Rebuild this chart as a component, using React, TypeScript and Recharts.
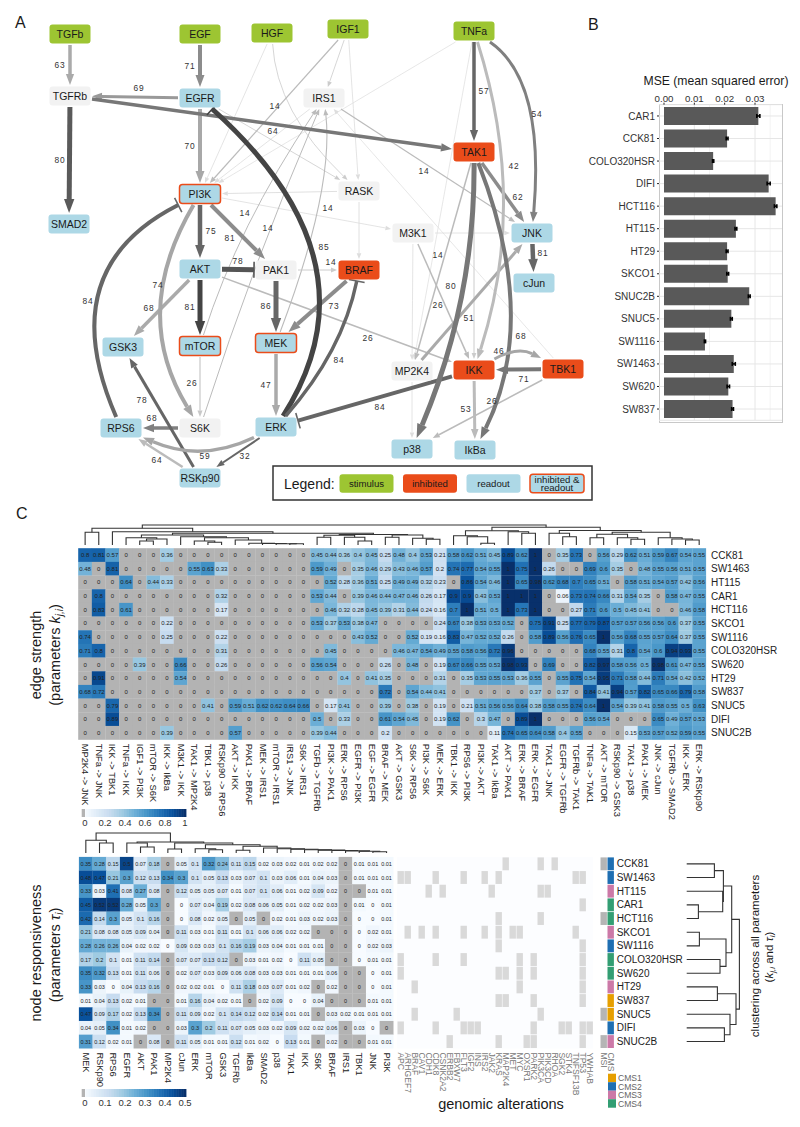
import React from 'react';
import { Bar, BarChart, CartesianGrid, ErrorBar, ReferenceArea, Scatter, ScatterChart, XAxis, YAxis } from 'recharts';

const FONT = '"Liberation Sans", Arial, sans-serif';
const PAGE_W = 800;
const PAGE_H = 1127;

// ---- network (panel A) ----
const nodeNames = ['TGFb', 'EGF', 'HGF', 'IGF1', 'TNFa', 'TGFRb', 'EGFR', 'IRS1', 'SMAD2', 'PI3K', 'RASK', 'TAK1', 'M3K1', 'JNK', 'AKT', 'PAK1', 'BRAF', 'cJun', 'GSK3', 'mTOR', 'MEK', 'MP2K4', 'IKK', 'TBK1', 'RPS6', 'S6K', 'ERK', 'p38', 'IkBa', 'RSKp90'];
const nodeX = [70, 200, 272, 348, 474, 70, 200, 324, 69, 200, 359, 474, 413, 532, 200, 276, 359, 534, 123, 200, 276, 412, 474, 563, 121, 200, 276, 412, 475, 200];
const nodeY = [34, 34, 33, 29, 31, 96, 98, 98, 224, 194, 191, 152, 233, 233, 269, 270, 270, 283, 347, 346, 343, 371, 370, 369, 428, 428, 427, 449, 450, 478];
const nodeKind = ['s', 's', 's', 's', 's', 'o', 'r', 'o', 'r', 'b', 'o', 'i', 'o', 'r', 'r', 'o', 'i', 'r', 'r', 'b', 'b', 'o', 'i', 'i', 'r', 'o', 'r', 'r', 'r', 'r'];

// from, to, optional point the curve passes through
type EdgeRow = [string, string, number?, number?];
const edgeRows: EdgeRow[] = [
  ['IGF1', 'IRS1'], ['IGF1', 'RASK'], ['HGF', 'PI3K'], ['HGF', 'RASK', 296, 112], ['TNFa', 'PI3K'], ['IRS1', 'PI3K'],
  ['EGFR', 'RASK'], ['RASK', 'PI3K'], ['PI3K', 'M3K1'], ['RASK', 'BRAF'], ['M3K1', 'JNK'], ['M3K1', 'MP2K4'],
  ['MP2K4', 'p38'], ['TBK1', 'IRS1'], ['TNFa', 'MP2K4'], ['IGF1', 'PI3K'], ['S6K', 'IRS1', 258, 262], ['mTOR', 'IRS1', 250, 224],
  ['MEK', 'IRS1', 317, 205], ['IRS1', 'JNK'], ['TAK1', 'IKK'], ['TAK1', 'MP2K4'], ['M3K1', 'IKK'], ['PAK1', 'BRAF'],
  ['mTOR', 'S6K'], ['AKT', 'IKK'], ['TBK1', 'p38'], ['TGFb', 'TGFRb'], ['EGF', 'EGFR'], ['EGFR', 'TGFRb'],
  ['TGFRb', 'SMAD2'], ['EGFR', 'PI3K'], ['TGFRb', 'TAK1'], ['PI3K', 'AKT'], ['PI3K', 'PAK1'], ['AKT', 'PAK1'],
  ['AKT', 'mTOR'], ['AKT', 'GSK3'], ['PAK1', 'MEK'], ['BRAF', 'MEK'], ['MEK', 'ERK'], ['S6K', 'RPS6'],
  ['RSKp90', 'GSK3'], ['RSKp90', 'RPS6'], ['ERK', 'RSKp90'], ['IKK', 'ERK'], ['TNFa', 'TAK1'], ['TAK1', 'JNK'],
  ['JNK', 'cJun'], ['TBK1', 'IKK'], ['IKK', 'IkBa'], ['MP2K4', 'JNK'], ['ERK', 'EGFR', 310, 262], ['RPS6', 'PI3K', 106, 290],
  ['PI3K', 'S6K', 165, 312], ['ERK', 'BRAF', 330, 350], ['ERK', 'RPS6', 200, 445], ['TNFa', 'JNK', 524, 106], ['TNFa', 'IKK', 501, 201],
  ['TAK1', 'p38', 459, 300], ['TAK1', 'IkBa', 507, 310], ['IKK', 'TBK1', 518, 358],
];
const inhibitoryEdges = ['IKK-ERK', 'ERK-EGFR', 'RPS6-PI3K', 'AKT-PAK1', 'ERK-BRAF'];
const edgeLabelText = [63, 71, 69, 80, 70, 14, 64, 14, 14, 14, 75, 81, 78, 85, 14, 84, 74, 68, 81, 86, 73, 26, 84, 26, 47, 78, 84, 68, 64, 59, 32, 57, 54, 14, 42, 62, 14, 81, 80, 26, 51, 68, 46, 71, 26, 53];
const edgeLabelX = [60, 190, 139, 60, 190, 275, 273, 245, 268, 328, 211, 230, 238, 324, 331, 88, 158, 149, 190, 266, 334, 368, 339, 192, 266, 142, 380, 152, 157, 205, 245, 484, 537, 424, 514, 518, 438, 543, 451, 438, 469, 521, 499, 524, 492, 466];
const edgeLabelY = [65, 66, 88, 160, 146, 106, 131, 213, 228, 208, 231, 238, 261, 247, 262, 301, 285, 308, 307, 306, 306, 338, 360, 383, 385, 400, 407, 418, 460, 456, 456, 91, 114, 171, 166, 197, 255, 253, 286, 305, 318, 336, 351, 379, 401, 409];
const legendNames = ['stimulus', 'inhibited', 'readout', 'inhibited &|readout'];
const legendKinds = ['s', 'i', 'r', 'b'];
const legendX = [366.5, 430, 493.5, 557];

// ---- MSE bars (panel B) ----
const mseLines = ['CAR1', 'CCK81', 'COLO320HSR', 'DIFI', 'HCT116', 'HT115', 'HT29', 'SKCO1', 'SNUC2B', 'SNUC5', 'SW1116', 'SW1463', 'SW620', 'SW837'];
const mseValues = [0.0311, 0.0208, 0.0162, 0.0345, 0.0368, 0.0237, 0.0208, 0.021, 0.0281, 0.0222, 0.0135, 0.023, 0.0212, 0.0226];
const mseErrors = [0.0005, 0.0003, 0.0002, 0.0005, 0.0004, 0.0003, 0.0003, 0.0003, 0.0003, 0.0003, 0.0002, 0.0005, 0.0004, 0.0003];
const mseTicks = [0, 0.01, 0.02, 0.03];
const mseMinorTicks = [0.005, 0.015, 0.025, 0.035];

// ---- heatmaps (panel C) ----
const cellLines = ['CCK81', 'SW1463', 'HT115', 'CAR1', 'HCT116', 'SKCO1', 'SW1116', 'COLO320HSR', 'SW620', 'HT29', 'SW837', 'SNUC5', 'DIFI', 'SNUC2B'];
const edgeNames = ['MP2K4 -> JNK', 'TNFa -> JNK', 'IKK -> TBK1', 'TNFa -> IKK', 'IGF1 -> PI3K', 'mTOR -> S6K', 'IKK -> IkBa', 'M3K1 -> IKK', 'TAK1 -> MP2K4', 'TBK1 -> p38', 'RSKp90 -> RPS6', 'AKT -> IKK', 'PAK1 -> BRAF', 'MEK -> IRS1', 'mTOR -> IRS1', 'IRS1 -> JNK', 'S6K -> IRS1', 'TGFb -> TGFRb', 'PI3K -> PAK1', 'ERK -> RPS6', 'EGFR -> PI3K', 'EGF -> EGFR', 'BRAF -> MEK', 'AKT -> GSK3', 'S6K -> RPS6', 'PI3K -> S6K', 'MEK -> ERK', 'TBK1 -> IKK', 'RPS6 -> PI3K', 'PI3K -> AKT', 'TAK1 -> IkBa', 'AKT -> PAK1', 'ERK -> BRAF', 'ERK -> EGFR', 'TAK1 -> JNK', 'EGFR -> TGFRb', 'TGFRb -> TAK1', 'TNFa -> TAK1', 'AKT -> mTOR', 'RSKp90 -> GSK3', 'TAK1 -> p38', 'PAK1 -> MEK', 'JNK -> cJun', 'TGFRb -> SMAD2', 'IKK -> ERK', 'ERK -> RSKp90'];
const edgeStrength = [
  [0.8, 0.81, 0.57, 0, 0, 0, 0.36, 0, 0, 0, 0, 0, 0, 0, 0, 0, 0, 0.45, 0.44, 0.36, 0.4, 0.45, 0.25, 0.48, 0.4, 0.53, 0.21, 0.58, 0.62, 0.51, 0.45, 0.89, 0.62, 1, 0, 0.35, 0.73, 0, 0.56, 0.29, 0.62, 0.51, 0.59, 0.67, 0.54, 0.55],
  [0.48, 0, 0.81, 0, 0, 0, 0, 0, 0.55, 0.63, 0.33, 0, 0, 0, 0, 0, 0, 0.59, 0.49, 0, 0.35, 0.46, 0.29, 0.43, 0.46, 0.57, 0.2, 0.74, 0.77, 0.54, 0.55, 1, 0.75, 1, 0.26, 0, 0, 0.69, 0.6, 0.35, 0, 0.48, 0.55, 0.56, 0.51, 0.55],
  [0, 0, 0, 0.64, 0, 0.44, 0.33, 0, 0, 0, 0, 0, 0, 0, 0, 0, 0, 0, 0.52, 0.28, 0.36, 0.51, 0.25, 0.49, 0.49, 0.32, 0.23, 0, 0.86, 0.54, 0.46, 1, 0.65, 0.98, 0.62, 0.68, 0.7, 0.65, 0.51, 0, 0.58, 0.51, 0.54, 0.57, 0.42, 0.56],
  [0, 0.8, 0, 0, 0, 0, 0, 0, 0, 0, 0.32, 0, 0, 0, 0, 0, 0, 0.53, 0.44, 0, 0.39, 0.46, 0.44, 0.47, 0.46, 0.26, 0.17, 0.9, 0.9, 0.43, 0.53, 1, 1, 1, 0, 0.06, 0.73, 0.74, 0.66, 0.31, 0.54, 0.35, 0, 0.58, 0.47, 0.55],
  [0, 0.83, 0, 0.61, 0, 0, 0, 0, 0, 0, 0.17, 0, 0, 0, 0, 0, 0, 0, 0.46, 0.32, 0.28, 0.45, 0.39, 0.31, 0.44, 0.24, 0.16, 0.7, 1, 0.51, 0.5, 1, 0.73, 1, 0, 0, 0.27, 0.71, 0.6, 0.5, 0.45, 0.41, 0, 0, 0.46, 0.58],
  [0, 0, 0, 0, 0, 0, 0.22, 0, 0, 0, 0, 0, 0, 0, 0, 0, 0, 0.53, 0.37, 0.53, 0.38, 0.47, 0, 0, 0, 0, 0.24, 0.67, 0.38, 0.53, 0.53, 0.52, 0, 0.75, 0.91, 0.25, 0.77, 0.79, 0.87, 0.57, 0.57, 0.56, 0.56, 0.6, 0.37, 0.55],
  [0.74, 0, 0, 0, 0, 0, 0.25, 0, 0, 0, 0.22, 0, 0, 0, 0, 0, 0, 0, 0, 0, 0.43, 0.52, 0, 0, 0.52, 0.19, 0.16, 0.83, 0.47, 0.52, 0.52, 0.26, 0, 0.58, 0.89, 0.56, 0.76, 0.65, 1, 0.56, 0.68, 0.55, 0.57, 0.64, 0.37, 0.55],
  [0.71, 0.8, 0, 0, 0, 0, 0, 0, 0, 0, 0.31, 0, 0, 0, 0, 0, 0, 0, 0.45, 0, 0, 0, 0, 0.46, 0.47, 0.54, 0.49, 0.55, 0.58, 0.56, 0.72, 0.96, 0, 0, 0, 0, 0, 0.68, 0.55, 0.31, 0.8, 0.54, 0.6, 0.94, 0.93, 0.55],
  [0, 0, 0, 0, 0.39, 0, 0, 0.66, 0, 0, 0.26, 0, 0, 0, 0, 0, 0, 0.56, 0.54, 0, 0, 0, 0.26, 0, 0.48, 0, 0.19, 0.67, 0.66, 0.55, 0.53, 0.98, 0.93, 0, 0.69, 0, 0, 0.82, 0.97, 0.58, 0.56, 0.5, 0.98, 0.61, 0.47, 0.55],
  [0, 0.91, 0, 0, 0, 0, 0, 0.54, 0, 0, 0, 0, 0, 0, 0, 0, 0, 0, 0, 0.4, 0, 0.41, 0.35, 0, 0, 0, 0.31, 0, 0.35, 0.53, 0.55, 0.53, 0.36, 0.55, 0, 0.55, 0.75, 0.54, 0.95, 0.71, 0.58, 0.44, 0.71, 0.54, 0.42, 0.52],
  [0.68, 0.72, 0, 0, 0, 0, 0, 0, 0, 0, 0, 0, 0, 0, 0, 0, 0, 0, 0, 0, 0, 0, 0.72, 0, 0.54, 0.44, 0.41, 0, 0, 0, 0, 0, 0, 0.37, 0, 0.37, 0, 0.84, 0.41, 0.94, 0.57, 0.82, 0.65, 0.66, 0.79, 0.58],
  [0, 0, 0.79, 0, 0, 0, 0, 0, 0, 0.41, 0, 0.59, 0.51, 0.62, 0.62, 0.64, 0.66, 0, 0.17, 0.41, 0, 0, 0.39, 0, 0.38, 0, 0.19, 0, 0.21, 0.51, 0.56, 0.56, 0.64, 0.38, 0.58, 0.55, 0.74, 0.64, 1, 0.54, 0.39, 0.41, 0.58, 0.55, 0.5, 0.63],
  [0, 0, 0.89, 0, 0, 0, 0, 0, 0, 0, 0, 0, 0, 0, 0, 0, 0, 0.5, 0, 0.33, 0, 0, 0.61, 0.54, 0.45, 0, 0.19, 0.62, 0, 0.3, 0.47, 0, 0.89, 1, 0, 0, 0, 0.56, 0.54, 0, 0, 0, 0.65, 0.49, 0.57, 0.53],
  [0, 0, 0, 0, 0, 0, 0.39, 0, 0, 0, 0, 0.57, 0, 0, 0, 0, 0, 0.39, 0.44, 0, 0, 0, 0.2, 0, 0, 0, 0, 0, 0, 0, 0.11, 0.74, 0.65, 0.64, 0.58, 0.4, 0.55, 0, 0, 0, 0.15, 0.53, 0.57, 0.52, 0.59, 0.55],
];
const responsivenessNodes = ['MEK', 'RSKp90', 'RPS6', 'EGFR', 'AKT', 'PAK1', 'MP2K4', 'cJun', 'ERK', 'mTOR', 'GSK3', 'TGFRb', 'IkBa', 'SMAD2', 'p38', 'TAK1', 'IKK', 'S6K', 'BRAF', 'IRS1', 'TBK1', 'JNK', 'PI3K'];
// 0.001 prints as 0 but is fitted (white cell), a true 0 is not fitted (grey cell)
const nodeResponsiveness = [
  [0.35, 0.28, 0.15, 0.5, 0.07, 0.18, 0, 0.05, 0.1, 0.32, 0.24, 0.11, 0.15, 0.02, 0.03, 0.02, 0.01, 0.02, 0.02, 0, 0.01, 0.01, 0.01],
  [0.48, 0.47, 0.21, 0.3, 0.12, 0.13, 0.34, 0.3, 0.1, 0.05, 0.13, 0.03, 0.07, 0.1, 0.03, 0.06, 0.01, 0.04, 0.03, 0, 0.01, 0.01, 0.01],
  [0.33, 0.03, 0.41, 0.08, 0.27, 0.08, 0, 0.12, 0.05, 0.05, 0.07, 0.01, 0.07, 0.1, 0.06, 0.01, 0.02, 0.09, 0.02, 0, 0, 0.01, 0.01],
  [0.45, 0.52, 0.52, 0.28, 0.05, 0.3, 0, 0.001, 0.07, 0.04, 0.19, 0.02, 0.08, 0.06, 0.05, 0.01, 0.02, 0.02, 0.03, 0, 0.01, 0.001, 0.01],
  [0.42, 0.14, 0.3, 0.05, 0.1, 0.16, 0, 0.001, 0.08, 0.02, 0.05, 0, 0.05, 0, 0.02, 0.01, 0.03, 0.02, 0.03, 0, 0.001, 0.001, 0.01],
  [0.21, 0.08, 0.08, 0.05, 0.09, 0.04, 0, 0.11, 0.03, 0.01, 0.11, 0.01, 0.1, 0.06, 0.06, 0.02, 0.02, 0, 0, 0, 0.001, 0.02, 0.01],
  [0.28, 0.26, 0.26, 0.04, 0.02, 0.02, 0.001, 0.09, 0.03, 0.03, 0.1, 0.16, 0.19, 0.03, 0.04, 0.01, 0.01, 0.01, 0, 0, 0.001, 0.02, 0.03],
  [0.17, 0.2, 0.1, 0.01, 0.11, 0.14, 0, 0.07, 0.07, 0.13, 0.12, 0, 0.03, 0.01, 0.02, 0.001, 0.11, 0.05, 0, 0, 0.001, 0.01, 0.01],
  [0.35, 0.32, 0.13, 0.01, 0.11, 0.06, 0, 0.02, 0.07, 0.03, 0.09, 0.06, 0.08, 0.03, 0.03, 0.01, 0.01, 0.01, 0.06, 0, 0, 0.001, 0.01],
  [0.33, 0.03, 0.001, 0.04, 0.13, 0.16, 0, 0.02, 0.02, 0.01, 0.001, 0.11, 0.18, 0.03, 0.07, 0.01, 0.02, 0, 0.02, 0, 0, 0.001, 0.01],
  [0.01, 0.04, 0.13, 0.02, 0.01, 0, 0, 0.01, 0.16, 0.04, 0.02, 0.01, 0, 0.02, 0.09, 0.001, 0.001, 0.04, 0, 0, 0, 0.01, 0.01],
  [0.47, 0.09, 0.17, 0.02, 0.13, 0.34, 0, 0.11, 0.09, 0.02, 0.1, 0.14, 0.12, 0.02, 0.14, 0.01, 0.01, 0, 0.03, 0.02, 0.01, 0.01, 0.01],
  [0.04, 0.05, 0.34, 0.01, 0.02, 0, 0, 0.03, 0.3, 0.2, 0.11, 0.07, 0.05, 0.03, 0.02, 0.09, 0.02, 0.02, 0.06, 0, 0.03, 0.001, 0],
  [0.31, 0.12, 0.02, 0.01, 0, 0.08, 0, 0.11, 0.05, 0.01, 0.01, 0.12, 0.01, 0.02, 0.001, 0.13, 0.01, 0, 0.02, 0, 0, 0.01, 0.01],
];
const geneNames = ['APC', 'ARHGEF7', 'BRAF', 'CAV1', 'CDH1', 'CDK8', 'CSNK2A2', 'ERBB2', 'FBXW7', 'FLT3', 'IGF2', 'INS', 'IRS2', 'JAK2', 'KRAS', 'MAP2K4', 'MET', 'MYC', 'OXSR1', 'PARK2', 'PIK3CA', 'PIK3CD', 'RHOA', 'SGK2', 'STK4', 'TNFSF13B', 'TP53', 'YWHAB'];
const alteredGenes = [
  [15, 20, 22], [0, 1, 5, 9, 12, 14, 25, 26], [4, 6, 13, 20, 21], [26], [14, 20], [1, 3, 5, 9, 12, 14, 16, 17, 25],
  [14, 26], [0, 5, 9, 17, 19, 26], [0, 14, 15, 17, 19, 26], [2, 17, 26], [14, 15, 19, 26], [2, 8, 20], [0, 5, 9, 10, 11, 19, 23, 24, 26, 27], [7, 14, 18, 19, 26],
];
const msiLines = ['CCK81', 'HCT116', 'SNUC5', 'SNUC2B'];
const cmsOfLine = [2, 2, 3, 4, 4, 3, 2, 4, 4, 3, 1, 1, 2, 3];
const cmsNames = ['CMS1', 'CMS2', 'CMS3', 'CMS4'];

// dendrograms: leaf = 1-based position, node = [height, left, right]
type Tree = number | [number, Tree, Tree];
const edgeTree: Tree = [20,
  [16.7, [12.7, 1, 2], [13.3, 3, [11.7,
    [10, [7.3, 4, [6, [4, 5, 6], 7]], [8.3, 8, [7.3, [4, 9, [2.7, 10, 11]], [5, 12, [1.7, 13, [1.5, 14, [1.3, 15, [1.2, 16, 17]]]]]]]],
    [10.5, [9.7, [7.7, 18, 19], [7.7, 20, [4, 21, 22]]], [10, [7.7, 23, 24], [6.7, 25, [5.7, 26, 27]]]],
  ]]],
  [17.7,
    [14.3, [9.3, 28, [8.3, 29, [1.7, 30, 31]]], [13.3, 32, [11.7, 33, 34]]],
    [14.5, [11.7, 35, [8.3, 36, 37]], [12.7, [10.7, [7.3, 38, 39], [7.3, 40, [5.7, 41, 42]]], [7.3, 43, [6, 44, [5, 45, 46]]]]],
  ],
];
const nodeTree: Tree = [20,
  [12.7, 1, [10, 2, 3]],
  [11, [10, 4, [6, 5, 6]], [10, [4, 7, 8], [8.3, [4.3, 9, [3.3, 10, 11]], [6.7, [2.7, 12, 13],
    [5, 14, [4.3, 15, [3.7, 16, [3.3, 17, [2.9, 18, [2.5, 19, [2.1, 20, [1.7, 21, [1.2, 22, 23]]]]]]]]]]]]],
];
const lineTree: Tree = [52.7,
  [45, [36.7, [27.7, 1, 2], [36, 3, [11.7, 4, 5]]], [39.3, [12.7, 6, 7], [33.3, 8, 9]]],
  [49.3, [30.7, 10, 11], [43.3, 12, [37.7, 13, 14]]],
];

// ---- styles ----
const KIND_FILL: Record<string, string> = { s: '#9dc532', i: '#ea4c1a', r: '#add8e6', b: '#add8e6', o: '#f2f2f2' };
const edgeWidths = [0.8, 0.8, 0.8, 0.8, 0.7, 0.8, 0.8, 0.9, 0.8, 0.9, 0.8, 0.8, 0.8, 0.7, 0.7, 1.2, 1, 1, 1.1, 1.2, 1, 1.5, 1.5, 1, 1.2, 1.5, 1.5, 3.5, 4, 3, 5, 4, 3.5, 4.5, 4, 5, 5, 3.5, 5, 4, 3.5, 3.5, 3, 2.5, 2, 4, 3.5, 3.5, 4.5, 4, 3, 3, 5, 4, 4, 3.5, 3.5, 3, 3, 5, 4, 3];
const edgeGreys = ['#cccccc', '#dddddd', '#dddddd', '#cccccc', '#dddddd', '#dddddd', '#cccccc', '#dddddd', '#dddddd', '#dddddd', '#dddddd', '#dddddd', '#dddddd', '#dddddd', '#dddddd', '#bbbbbb', '#bbbbbb', '#bbbbbb', '#bbbbbb', '#bbbbbb', '#cccccc', '#bbbbbb', '#bbbbbb', '#cccccc', '#c8c8c8', '#bbbbbb', '#bbbbbb', '#aaaaaa', '#8c8c8c', '#999999', '#5a5a5a', '#a8a8a8', '#777777', '#666666', '#8c8c8c', '#555555', '#444444', '#aaaaaa', '#666666', '#8c8c8c', '#aaaaaa', '#808080', '#666666', '#bbbbbb', '#666666', '#666666', '#666666', '#8c8c8c', '#666666', '#777777', '#bbbbbb', '#aaaaaa', '#444444', '#666666', '#a6a6a6', '#666666', '#a6a6a6', '#808080', '#bbbbbb', '#777777', '#777777', '#a6a6a6'];
const BLUES = ['#f7fbff', '#deebf7', '#c6dbef', '#9ecae1', '#6baed6', '#4292c6', '#2171b5', '#08519c', '#08306b'];
const NOT_FITTED = '#b3b3b3';
const CMS_FILL = ['#e69f00', '#1f6fb2', '#cc79a7', '#339e73'];

function blues(t: number) {
  const pos = Math.min(Math.max(t, 0), 1) * (BLUES.length - 1);
  const i = Math.min(Math.floor(pos), BLUES.length - 2);
  const hex = (s: string, k: number) => parseInt(s.slice(1 + k * 2, 3 + k * 2), 16);
  const c = [0, 1, 2].map((k) => Math.round(hex(BLUES[i], k) + (hex(BLUES[i + 1], k) - hex(BLUES[i], k)) * (pos - i)));
  return `rgb(${c.join(',')})`;
}

const noPoint = () => <g />;

function NodeBox(p: any) {
  const { cx, cy, payload } = p;
  const w = payload.w ?? 41;
  const h = payload.h ?? 19;
  const both = payload.kind === 'b';
  const lines = String(payload.name).split('|');
  return (
    <g>
      <rect x={cx - w / 2} y={cy - h / 2} width={w} height={h} rx={3} fill={KIND_FILL[payload.kind]} stroke={both ? '#ea4c1a' : 'none'} strokeWidth={1.5} />
      {lines.map((t, i) => (
        <text key={t} x={cx} y={cy + (i - (lines.length - 1) / 2) * 8} textAnchor="middle" dominantBaseline="central" fontFamily={FONT} fontSize={payload.size ?? 10.5} fill="#1a1a1a">{t}</text>
      ))}
    </g>
  );
}

function clipToBox(c: any, toward: any) {
  const dx = toward.x - c.x;
  const dy = toward.y - c.y;
  const t = Math.min(22 / Math.max(Math.abs(dx), 0.01), 11 / Math.max(Math.abs(dy), 0.01));
  return { x: c.x + dx * t, y: c.y + dy * t };
}

function EdgeGlyph({ points, width, color, inhibit }: any) {
  const from = points[0];
  const to = points[points.length - 1];
  const ctrl = points.length === 3
    ? { x: 2 * points[1].x - (from.x + to.x) / 2, y: 2 * points[1].y - (from.y + to.y) / 2 }
    : { x: (from.x + to.x) / 2, y: (from.y + to.y) / 2 };
  const start = clipToBox(from, ctrl);
  const end = clipToBox(to, ctrl);
  const len = Math.hypot(end.x - ctrl.x, end.y - ctrl.y) || 1;
  const ux = (end.x - ctrl.x) / len;
  const uy = (end.y - ctrl.y) / len;
  const headLen = inhibit ? 0 : 4 + 2 * width;
  const half = 1.7 + 0.7 * width;
  const tail = { x: end.x - ux * headLen, y: end.y - uy * headLen };
  const base = `${tail.x},${tail.y}`;
  const bar = 8;
  return (
    <g>
      <path d={`M${start.x},${start.y} Q${ctrl.x},${ctrl.y} ${tail.x},${tail.y}`} fill="none" stroke={color} strokeWidth={width} />
      {inhibit ? (
        <line x1={end.x - uy * bar} y1={end.y + ux * bar} x2={end.x + uy * bar} y2={end.y - ux * bar} stroke={color} strokeWidth={1.6} />
      ) : (
        <polygon points={`${end.x},${end.y} ${tail.x - uy * half},${tail.y + ux * half} ${base} ${tail.x + uy * half},${tail.y - ux * half}`} fill={color} />
      )}
    </g>
  );
}

function Network() {
  const nodes = nodeNames.map((name, i) => ({ name, x: nodeX[i], y: nodeY[i], kind: nodeKind[i] }));
  const at = (name: string) => nodes[nodeNames.indexOf(name)];
  const labels = edgeLabelText.map((t, i) => ({ t, x: edgeLabelX[i], y: edgeLabelY[i] }));
  const legend = legendNames.map((name, i) => ({ name, x: legendX[i], y: 483.5, kind: legendKinds[i], w: 54, h: 18.5, size: 9.6 }));
  return (
    <ScatterChart width={PAGE_W} height={520} margin={{ top: 0, right: 0, bottom: 0, left: 0 }}>
      <XAxis type="number" dataKey="x" domain={[0, PAGE_W]} hide />
      <YAxis type="number" dataKey="y" domain={[0, 520]} reversed hide />
      <ReferenceArea x1={273} x2={592} y1={466} y2={500} fill="#fff" fillOpacity={1} stroke="#333" strokeWidth={1.5} />
      {edgeRows.map(([a, b, vx, vy], i) => {
        const pts = vx === undefined ? [at(a), at(b)] : [at(a), { x: vx, y: vy }, at(b)];
        const inhibit = inhibitoryEdges.includes(`${a}-${b}`);
        return (
          <Scatter
            key={`${a}-${b}`}
            data={pts}
            isAnimationActive={false}
            shape={noPoint}
            line={(p: any) => <EdgeGlyph points={p.points} width={edgeWidths[i]} color={edgeGreys[i]} inhibit={inhibit} />}
          />
        );
      })}
      <Scatter
        data={labels}
        isAnimationActive={false}
        shape={(p: any) => (
          <text x={p.cx} y={p.cy} textAnchor="middle" dominantBaseline="central" fontFamily={FONT} fontSize={8.4} letterSpacing={0.9} fill="#333">{p.payload.t}</text>
        )}
      />
      <Scatter data={nodes} isAnimationActive={false} shape={NodeBox} />
      <Scatter data={legend} isAnimationActive={false} shape={NodeBox} />
    </ScatterChart>
  );
}

function MseBars() {
  const data = mseLines.map((name, i) => ({ name, mse: mseValues[i], err: mseErrors[i] }));
  return (
    <BarChart
      width={PAGE_W}
      height={PAGE_H}
      layout="vertical"
      data={data}
      barCategoryGap="10%"
      margin={{ top: 84.7, right: 18, bottom: 706.7, left: 589 }}
    >
      <CartesianGrid horizontal={false} verticalValues={mseMinorTicks} stroke="#f0f0f0" strokeWidth={0.8} />
      <CartesianGrid stroke="#e6e6e6" strokeWidth={1} verticalValues={mseTicks} />
      <XAxis
        type="number"
        orientation="top"
        domain={[-0.00165, 0.0389]}
        allowDataOverflow
        ticks={mseTicks}
        tickFormatter={(v: number) => v.toFixed(2)}
        height={20}
        tickSize={2}
        tickMargin={1}
        axisLine={false}
        tickLine={{ stroke: '#222' }}
        tick={{ fontSize: 9.7, fontFamily: FONT, fill: '#333' }}
      />
      <YAxis
        type="category"
        dataKey="name"
        width={70}
        interval={0}
        tickSize={2}
        tickMargin={2}
        axisLine={false}
        tickLine={{ stroke: '#222' }}
        tick={{ fontSize: 10, fontFamily: FONT, fill: '#333' }}
      />
      <Bar dataKey="mse" fill="#595959" isAnimationActive={false}>
        <ErrorBar dataKey="err" direction="x" width={2} strokeWidth={1.6} stroke="#000" isAnimationActive={false} />
      </Bar>
    </BarChart>
  );
}

type Box = { left: number; top: number; right: number; bottom: number };

function rotatedTick(names: string[], fontSize: number, fill: string) {
  return (p: any) => {
    const text = names[Math.floor(p.payload.value)];
    return (
      <text x={p.x} y={p.y} transform={`rotate(90 ${p.x} ${p.y})`} dominantBaseline="central" fontFamily={FONT} fontSize={fontSize} fill={fill}>{text}</text>
    );
  };
}

function Heatmap({ matrix, columns, box, maxValue, fontSize }: { matrix: number[][]; columns: string[]; box: Box; maxValue: number; fontSize: number }) {
  const cw = (box.right - box.left) / columns.length;
  const ch = (box.bottom - box.top) / cellLines.length;
  const data = matrix.flatMap((row, r) => row.map((v, c) => ({ col: c + 0.5, row: r + 0.5, v })));
  return (
    <ScatterChart
      width={PAGE_W}
      height={PAGE_H}
      margin={{ top: box.top, left: box.left, right: PAGE_W - box.right - 90, bottom: PAGE_H - box.bottom - 70 }}
    >
      <XAxis
        type="number"
        dataKey="col"
        domain={[0, columns.length]}
        ticks={columns.map((_, i) => i + 0.5)}
        interval={0}
        height={70}
        tickSize={0}
        tickMargin={4}
        axisLine={false}
        tick={rotatedTick(columns, 9.3, '#222')}
      />
      <YAxis
        type="number"
        dataKey="row"
        orientation="right"
        reversed
        domain={[0, cellLines.length]}
        ticks={cellLines.map((_, i) => i + 0.5)}
        tickFormatter={(v: number) => cellLines[Math.floor(v)]}
        interval={0}
        width={90}
        tickSize={0}
        tickMargin={5}
        axisLine={false}
        tick={{ fontSize: 10, fontFamily: FONT, fill: '#222' }}
      />
      <Scatter
        data={data}
        isAnimationActive={false}
        shape={(p: any) => {
          const v = p.payload.v;
          return (
            <g>
              <rect x={p.cx - cw / 2 - 0.1} y={p.cy - ch / 2 - 0.1} width={cw + 0.2} height={ch + 0.2} fill={v === 0 ? NOT_FITTED : blues(v / maxValue)} />
              <text x={p.cx} y={p.cy} textAnchor="middle" dominantBaseline="central" fontFamily={FONT} fontSize={fontSize} fill="#222">{v < 0.005 ? '0' : String(v)}</text>
            </g>
          );
        }}
      />
    </ScatterChart>
  );
}

function Alterations() {
  const box = { left: 397.2, top: 857, right: 614.2, bottom: 1048.4 };
  const labels = [...geneNames, '', 'MSI', 'CMS'];
  const cw = (box.right - box.left) / labels.length;
  const ch = (box.bottom - box.top) / cellLines.length;
  const genes = alteredGenes.flatMap((list, r) => list.map((g) => ({ col: g + 0.5, row: r + 0.5, fill: '#d9d9d9' })));
  const msi = msiLines.map((name) => ({ col: 29.5, row: cellLines.indexOf(name) + 0.5, fill: '#b5b5b5' }));
  const cms = cmsOfLine.map((k, r) => ({ col: 30.5, row: r + 0.5, fill: CMS_FILL[k - 1] }));
  return (
    <ScatterChart
      width={PAGE_W}
      height={PAGE_H}
      margin={{ top: box.top, left: box.left, right: PAGE_W - box.right - 90, bottom: PAGE_H - box.bottom - 70 }}
    >
      <XAxis
        type="number"
        dataKey="col"
        domain={[0, labels.length]}
        ticks={labels.map((_, i) => i + 0.5)}
        interval={0}
        height={70}
        tickSize={0}
        tickMargin={4}
        axisLine={false}
        tick={rotatedTick(labels, 8.6, '#777')}
      />
      <YAxis
        type="number"
        dataKey="row"
        orientation="right"
        reversed
        domain={[0, cellLines.length]}
        ticks={cellLines.map((_, i) => i + 0.5)}
        tickFormatter={(v: number) => cellLines[Math.floor(v)]}
        interval={0}
        width={90}
        tickSize={0}
        tickMargin={2.5}
        axisLine={false}
        tick={{ fontSize: 10, fontFamily: FONT, fill: '#222' }}
      />
      <ReferenceArea x1={0} x2={28} y1={0} y2={cellLines.length} fill="#fcfdff" fillOpacity={1} stroke="none" />
      <Scatter
        data={[...genes, ...msi, ...cms]}
        isAnimationActive={false}
        shape={(p: any) => <rect x={p.cx - cw / 2 + 0.3} y={p.cy - ch / 2 + 0.4} width={cw - 0.6} height={ch - 0.8} fill={p.payload.fill} />}
      />
    </ScatterChart>
  );
}

function CmsLegend() {
  const data = cmsNames.map((_, i) => ({ x: 0.5, row: i + 0.5, fill: CMS_FILL[i] }));
  return (
    <ScatterChart width={PAGE_W} height={PAGE_H} margin={{ top: 1073.7, left: 608, right: 800 - 616 - 50, bottom: 1127 - 1107.7 }}>
      <XAxis type="number" dataKey="x" domain={[0, 1]} hide />
      <YAxis
        type="number"
        dataKey="row"
        orientation="right"
        reversed
        domain={[0, cmsNames.length]}
        ticks={cmsNames.map((_, i) => i + 0.5)}
        tickFormatter={(v: number) => cmsNames[Math.floor(v)]}
        interval={0}
        width={50}
        tickSize={0}
        tickMargin={2}
        axisLine={false}
        tick={{ fontSize: 8.6, fontFamily: FONT, fill: '#666' }}
      />
      <Scatter
        data={data}
        isAnimationActive={false}
        shape={(p: any) => <rect x={p.cx - 4} y={p.cy - 4.25} width={8} height={8.5} fill={p.payload.fill} />}
      />
    </ScatterChart>
  );
}

function ColorBar({ top, maxValue, ticks }: { top: number; maxValue: number; ticks: number[] }) {
  const left = 81.7;
  const right = 185;
  const ramp = Array.from({ length: 41 }, (_, i) => (i / 40) * maxValue);
  const grey = -0.0165 * maxValue;
  const step = (right - left) / (1.033 * 41);
  return (
    <ScatterChart width={PAGE_W} height={PAGE_H} margin={{ top, left, right: PAGE_W - right, bottom: PAGE_H - top - 8 - 16 }}>
      <XAxis
        type="number"
        dataKey="v"
        domain={[-0.033 * maxValue, maxValue]}
        ticks={ticks}
        interval={0}
        height={16}
        tickSize={0}
        tickMargin={2}
        axisLine={false}
        tick={{ fontSize: 9.5, fontFamily: FONT, fill: '#333' }}
      />
      <YAxis type="number" dataKey="y" domain={[0, 1]} hide />
      <Scatter
        data={ramp.map((v) => ({ v, y: 0.5 }))}
        isAnimationActive={false}
        shape={(p: any) => <rect x={p.cx - step / 2 - 0.2} y={top} width={step + 0.4} height={8} fill={blues(p.payload.v / maxValue)} />}
      />
      <Scatter
        data={[{ v: grey, y: 0.5 }]}
        isAnimationActive={false}
        shape={() => <rect x={left} y={top} width={3.3} height={8} fill={NOT_FITTED} />}
      />
    </ScatterChart>
  );
}

type Bracket = { pts: { x: number; y: number }[] };

function layoutTree(tree: Tree, out: Bracket[], across: boolean): { pos: number; h: number } {
  if (typeof tree === 'number') return { pos: tree - 0.5, h: 0 };
  const [h, a, b] = tree;
  const l = layoutTree(a, out, across);
  const r = layoutTree(b, out, across);
  const path = [[l.pos, l.h], [l.pos, h], [r.pos, h], [r.pos, r.h]];
  out.push({ pts: path.map(([pos, v]) => (across ? { x: v, y: pos } : { x: pos, y: v })) });
  return { pos: (l.pos + r.pos) / 2, h };
}

function Dendrogram({ tree, box, leaves, maxH, across }: { tree: Tree; box: Box; leaves: number; maxH: number; across?: boolean }) {
  const brackets: Bracket[] = [];
  layoutTree(tree, brackets, !!across);
  return (
    <ScatterChart width={PAGE_W} height={PAGE_H} margin={{ top: box.top, left: box.left, right: PAGE_W - box.right, bottom: PAGE_H - box.bottom }}>
      <XAxis type="number" dataKey="x" domain={across ? [0, maxH] : [0, leaves]} hide />
      <YAxis type="number" dataKey="y" domain={across ? [0, leaves] : [0, maxH]} reversed={!!across} hide />
      {brackets.map((b, i) => (
        <Scatter key={i} data={b.pts} isAnimationActive={false} shape={noPoint} line={{ stroke: '#333', strokeWidth: 1.1 }} />
      ))}
    </ScatterChart>
  );
}

function Captions() {
  const base = { fontFamily: FONT, fill: '#1a1a1a' };
  return (
    <svg width={PAGE_W} height={PAGE_H} style={{ position: 'absolute', left: 0, top: 0 }}>
      <text x={15} y={28} fontSize={16} {...base}>A</text>
      <text x={588} y={30} fontSize={16} {...base}>B</text>
      <text x={16} y={519} fontSize={16} {...base}>C</text>
      <text x={284} y={489} fontSize={14} {...base}>Legend:</text>
      <text x={716} y={85} fontSize={12.2} textAnchor="middle" {...base}>MSE (mean squared error)</text>
      <text transform="translate(41 655) rotate(-90)" fontSize={14.5} textAnchor="middle" {...base}>edge strength</text>
      <text transform="translate(60 655) rotate(-90)" fontSize={14.5} textAnchor="middle" {...base}>
        (parameters <tspan fontStyle="italic">k</tspan><tspan fontStyle="italic" fontSize={10} dy={3}>j,i</tspan><tspan dy={-3}>)</tspan>
      </text>
      <text transform="translate(41 953) rotate(-90)" fontSize={14.5} textAnchor="middle" {...base}>node responsiveness</text>
      <text transform="translate(60 955) rotate(-90)" fontSize={14.5} textAnchor="middle" {...base}>
        (parameters <tspan fontStyle="italic">τ</tspan><tspan fontStyle="italic" fontSize={10} dy={3}>i</tspan><tspan dy={-3}>)</tspan>
      </text>
      <text x={501} y={1109} fontSize={14.5} textAnchor="middle" {...base}>genomic alterations</text>
      <text transform="translate(759 956) rotate(-90)" fontSize={11.5} textAnchor="middle" {...base}>clustering across all parameters</text>
      <text transform="translate(773 957) rotate(-90)" fontSize={11.5} textAnchor="middle" {...base}>
        (<tspan fontStyle="italic">k</tspan><tspan fontStyle="italic" fontSize={8} dy={2}>j,i</tspan><tspan dy={-2}> and </tspan><tspan fontStyle="italic">τ</tspan><tspan fontStyle="italic" fontSize={8} dy={2}>i</tspan><tspan dy={-2}>)</tspan>
      </text>
    </svg>
  );
}

const layer: React.CSSProperties = { position: 'absolute', left: 0, top: 0 };
const edgeBox = { left: 78.3, top: 548.3, right: 706, bottom: 739.7 };
const nodeBox = { left: 79, top: 857, right: 393.4, bottom: 1048.4 };

export default function App() {
  return (
    <div style={{ position: 'absolute', left: 0, top: 0, width: PAGE_W, height: PAGE_H, background: '#fff', overflow: 'hidden' }}>
      <div style={layer}><Network /></div>
      <div style={{ position: 'absolute', left: 659, top: 104, width: 121.5, height: 316.5, border: '1.5px solid #c8c8c8' }} />
      <div style={layer}><MseBars /></div>
      <div style={layer}><Dendrogram tree={edgeTree} box={{ left: edgeBox.left, right: edgeBox.right, top: 520, bottom: 545 }} leaves={46} maxH={25} /></div>
      <div style={layer}><Heatmap matrix={edgeStrength} columns={edgeNames} box={edgeBox} maxValue={1} fontSize={6} /></div>
      <div style={layer}><ColorBar top={809} maxValue={1} ticks={[0, 0.2, 0.4, 0.6, 0.8, 1]} /></div>
      <div style={layer}><Dendrogram tree={nodeTree} box={{ left: nodeBox.left, right: nodeBox.right, top: 833, bottom: 853 }} leaves={23} maxH={20} /></div>
      <div style={layer}><Heatmap matrix={nodeResponsiveness} columns={responsivenessNodes} box={nodeBox} maxValue={0.54} fontSize={5.5} /></div>
      <div style={layer}><ColorBar top={1089} maxValue={0.5} ticks={[0, 0.1, 0.2, 0.3, 0.4, 0.5]} /></div>
      <div style={layer}><Alterations /></div>
      <div style={layer}><CmsLegend /></div>
      <div style={layer}><Dendrogram tree={lineTree} box={{ left: 686.7, right: 746.7, top: nodeBox.top, bottom: nodeBox.bottom }} leaves={14} maxH={60} across /></div>
      <Captions />
    </div>
  );
}
